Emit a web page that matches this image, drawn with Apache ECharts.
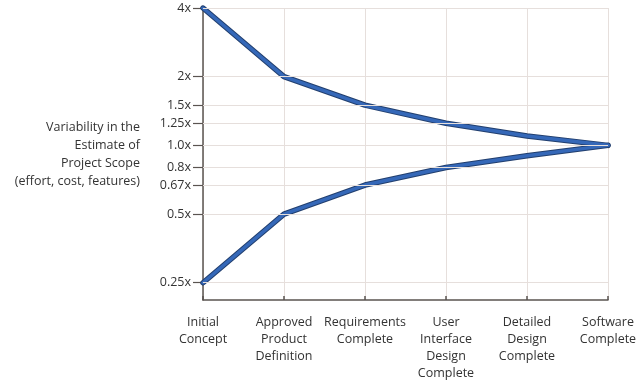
<!DOCTYPE html>
<html><head><meta charset="utf-8">
<script src="https://cdn.jsdelivr.net/npm/echarts@6/dist/echarts.min.js"></script>
<style>html,body{margin:0;padding:0;background:#fff}#c{width:640px;height:383px}</style>
</head><body><div id="c"></div>
<script>
const categories = ['Initial\nConcept','Approved\nProduct\nDefinition','Requirements\nComplete','User\nInterface\nDesign\nComplete','Detailed\nDesign\nComplete','Software\nComplete'];
const upper = [4, 2, 1.5, 1.25, 1.1, 1.0];
const lower = [0.25, 0.5, 0.67, 0.8, 0.9, 1.0];
const tickValues = [0.25, 0.5, 0.67, 0.8, 1.0, 1.25, 1.5, 2, 4];
const tickLabels = ['0.25x','0.5x','0.67x','0.8x','1.0x','1.25x','1.5x','2x','4x'];
const yTitle = 'Variability in the\nEstimate of\nProject Scope\n(effort, cost, features)';

const font = '"Open Sans", "Noto Sans", sans-serif';
const chart = echarts.init(document.getElementById('c'));
const labelMap = {};
tickValues.forEach((v,i)=>labelMap[v]=tickLabels[i]);

function lineSeries(data, color, width, z){
  return {type:'line', data:data, symbol:'none', z:z, silent:true,
    lineStyle:{color:color, width:width, join:'round', cap:'round'}};
}
const gridMarks = {
  type:'line', data:[], silent:true, z:1,
  markLine:{symbol:'none', silent:true, label:{show:false},
    lineStyle:{color:'#e6dfdc', width:1, type:'solid'},
    data: tickValues.map(v=>({yAxis:v}))}
};
chart.setOption({
  animation:false,
  grid:{left:203, right:32, top:8, bottom:83},
  xAxis:{type:'category', data:categories, boundaryGap:false,
    axisLine:{lineStyle:{color:'#5a5450', width:1.5}},
    axisTick:{inside:true, length:4, lineStyle:{color:'#5a5450', width:1.5}},
    splitLine:{show:true, lineStyle:{color:'#e6dfdc', width:1}},
    axisLabel:{color:'#333', fontFamily:font, fontSize:12.5, lineHeight:17, margin:14, interval:0}
  },
  yAxis:{type:'log', logBase:2, min:0.21, max:4,
    name:yTitle, nameLocation:'middle', nameRotate:0, nameGap:63,
    nameTextStyle:{color:'#333', fontFamily:font, fontSize:12.5, lineHeight:18, align:'right'},
    axisLine:{show:true, lineStyle:{color:'#5a5450', width:1.5}},
    axisTick:{show:true, length:10, customValues:tickValues, lineStyle:{color:'#5a5450', width:1.2}},
    splitLine:{show:false},
    axisLabel:{customValues:tickValues, color:'#333', fontFamily:font, fontSize:12.5, margin:12,
      formatter:v=>{ for(const k in labelMap){ if(Math.abs(+k - v) < 1e-6) return labelMap[k]; } return ''; }}
  },
  series:[
    gridMarks,
    lineSeries(upper, '#223f6e', 5.5, 3),
    lineSeries(lower, '#223f6e', 5.5, 3),
    lineSeries(upper, '#3568b8', 3.5, 4),
    lineSeries(lower, '#3568b8', 3.5, 4)
  ]
});
</script></body></html>
